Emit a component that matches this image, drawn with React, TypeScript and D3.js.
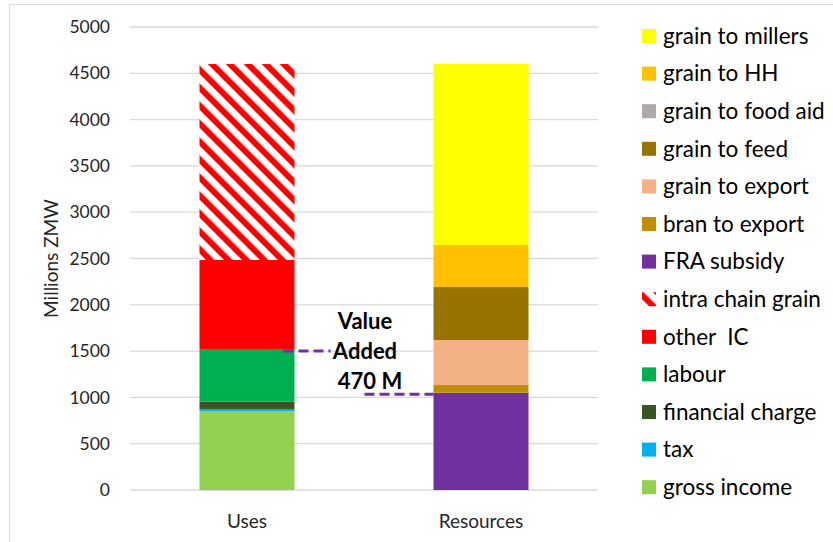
import { useEffect, useRef } from 'react';
import * as d3 from 'd3';

// data (Millions ZMW)
const categories = ['Uses', 'Resources'];
const seriesNames = [
  'gross income',
  'tax',
  'financial charge',
  'labour',
  'other  IC',
  'intra chain grain',
  'FRA subsidy',
  'bran to export',
  'grain to export',
  'grain to feed',
  'grain to food aid',
  'grain to HH',
  'grain to millers',
];
const usesValues = [853, 22, 80, 568, 961, 2116, 0, 0, 0, 0, 0, 0, 0];
const resourcesValues = [0, 0, 0, 0, 0, 0, 1051, 83, 486, 572, 0, 454, 1954];
const seriesColors = [
  '#92d050',
  '#00b0f0',
  '#375623',
  '#00b050',
  '#ff0000',
  'url(#hatch)',
  '#7030a0',
  '#bf8f00',
  '#f4b183',
  '#997300',
  '#aeaaaa',
  '#ffc000',
  '#ffff00',
];
const yTicks = [0, 500, 1000, 1500, 2000, 2500, 3000, 3500, 4000, 4500, 5000];
const annotationLines = ['Value', 'Added', '470 M'];

const FONT = 'Lato, "Open Sans", sans-serif';

function App() {
  const ref = useRef<SVGSVGElement>(null);

  useEffect(() => {
    const svg = d3.select(ref.current);
    svg.selectAll('*').remove();

    const width = 833;
    const height = 542;
    const left = 130;
    const right = 598;
    const top = 27;
    const bottom = 490;

    // hatch for intra chain grain
    const defs = svg.append('defs');
    defs.append('pattern')
      .attr('id', 'hatch')
      .attr('patternUnits', 'userSpaceOnUse')
      .attr('width', 12.7)
      .attr('height', 12.7)
      .attr('patternTransform', 'rotate(-45)')
      .call((p) => {
        p.append('rect').attr('width', 12.7).attr('height', 12.7).attr('fill', '#fff');
        p.append('rect').attr('width', 6).attr('height', 12.7).attr('fill', '#ff0000');
      });

    // frame
    svg.append('rect')
      .attr('x', 9.5).attr('y', 4.5)
      .attr('width', width).attr('height', height)
      .attr('fill', 'none').attr('stroke', '#d9d9d9');

    const x = d3.scaleBand().domain(categories).range([left, right]).paddingInner(0.594).paddingOuter(0.297);
    const y = d3.scaleLinear().domain([0, 5000]).range([bottom, top]);

    // grid
    svg.append('g')
      .selectAll('line')
      .data(yTicks)
      .join('line')
      .attr('x1', left).attr('x2', right)
      .attr('y1', (d) => y(d)).attr('y2', (d) => y(d))
      .attr('stroke', '#d9d9d9').attr('stroke-width', 1.3);

    // y tick labels
    svg.append('g')
      .selectAll('text')
      .data(yTicks)
      .join('text')
      .attr('x', 110)
      .attr('y', (d) => y(d))
      .attr('dy', '0.35em')
      .attr('text-anchor', 'end')
      .style('font-family', FONT)
      .style('font-size', '17.5px')
      .attr('fill', '#262626')
      .text((d) => d);

    svg.append('text')
      .attr('transform', `translate(58,${(top + bottom) / 2}) rotate(-90)`)
      .attr('text-anchor', 'middle')
      .style('font-family', FONT)
      .style('font-size', '19px')
      .attr('fill', '#262626')
      .text('Millions ZMW');

    // stacked bars
    const table = categories.map((c, i) => {
      const row: Record<string, any> = { cat: c };
      seriesNames.forEach((s, j) => {
        row[s] = i === 0 ? usesValues[j] : resourcesValues[j];
      });
      return row;
    });
    const stacked = d3.stack<any>().keys(seriesNames)(table);

    svg.append('g')
      .selectAll('g')
      .data(stacked)
      .join('g')
      .attr('fill', (_d, i) => seriesColors[i])
      .selectAll('rect')
      .data((d) => d)
      .join('rect')
      .attr('x', (d) => x(d.data.cat)!)
      .attr('width', x.bandwidth())
      .attr('y', (d) => y(d[1]))
      .attr('height', (d) => y(d[0]) - y(d[1]));

    // x labels
    svg.append('g')
      .selectAll('text')
      .data(categories)
      .join('text')
      .attr('x', (d) => x(d)! + x.bandwidth() / 2)
      .attr('y', 528)
      .attr('text-anchor', 'middle')
      .style('font-family', FONT)
      .style('font-size', '19px')
      .attr('fill', '#262626')
      .text((d) => d);

    // value added annotation
    const labourTop = stacked[3][0][1];
    const fraTop = stacked[6][1][1];
    const usesRight = x('Uses')! + x.bandwidth();
    const resLeft = x('Resources')!;
    const dash = svg.append('g')
      .attr('stroke', '#7030a0').attr('stroke-width', 3).attr('stroke-dasharray', '10,5');
    dash.append('line')
      .attr('x1', usesRight - 11).attr('x2', usesRight + 36)
      .attr('y1', y(labourTop) + 2).attr('y2', y(labourTop) + 2);
    dash.append('line')
      .attr('x1', resLeft - 69).attr('x2', resLeft)
      .attr('y1', y(fraTop) + 1.5).attr('y2', y(fraTop) + 1.5);

    svg.append('g')
      .selectAll('text')
      .data(annotationLines)
      .join('text')
      .attr('x', (_d, i) => (i === 2 ? 370 : 365))
      .attr('y', (_d, i) => 329 + i * 30)
      .attr('text-anchor', 'middle')
      .style('font-family', FONT)
      .style('font-size', '22px')
      .style('font-weight', 'bold')
      .attr('fill', '#000')
      .text((d) => d);

    // legend
    const legendNames = seriesNames.slice().reverse();
    const legendColors = seriesColors.slice().reverse();
    const lg = svg.append('g')
      .selectAll('g')
      .data(legendNames)
      .join('g')
      .attr('transform', (_d, i) => `translate(642,${36 + i * 37.6})`);
    lg.append('rect')
      .attr('x', 0).attr('y', -7)
      .attr('width', 14).attr('height', 14)
      .attr('fill', (_d, i) => legendColors[i]);
    lg.append('text')
      .attr('x', 21)
      .attr('y', 0)
      .attr('dy', '0.35em')
      .style('font-family', FONT)
      .style('font-size', '22.5px')
      .style('white-space', 'pre')
      .attr('fill', '#000')
      .text((d) => d);
  }, []);

  return (
    <svg
      ref={ref}
      width={833}
      height={542}
      style={{ position: 'absolute', left: 0, top: 0, background: '#fff' }}
    />
  );
}

export default App;
